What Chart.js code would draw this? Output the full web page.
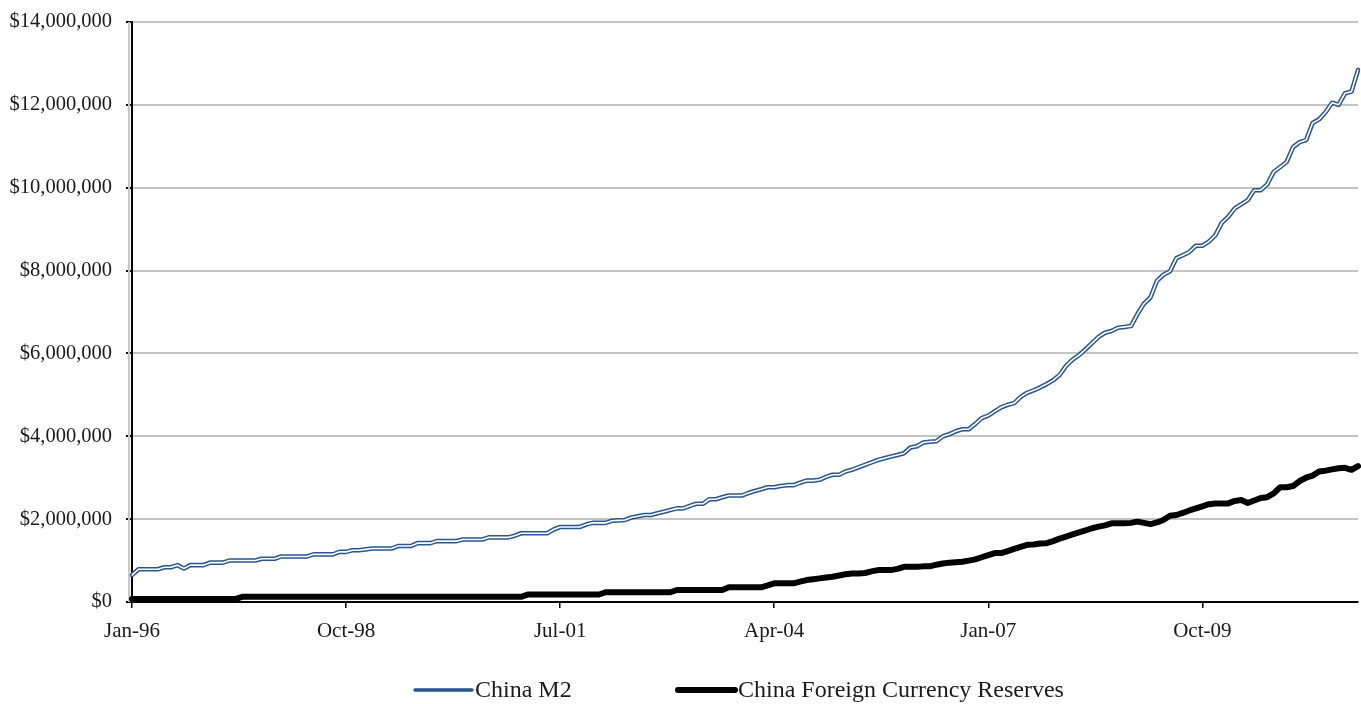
<!DOCTYPE html>
<html>
<head>
<meta charset="utf-8">
<title>China M2 vs Foreign Currency Reserves</title>
<script src="https://cdn.jsdelivr.net/npm/chart.js@4.4.7/dist/chart.umd.min.js"></script>
<style>
  html, body { margin: 0; padding: 0; background: #fff; }
  #wrap { width: 1361px; height: 704px; position: relative; }
</style>
</head>
<body>
<div id="wrap"><canvas id="chart" width="1361" height="704"></canvas></div>
<script>
// monthly series, Jan-96 .. Oct-11 (US$ millions)
const chinaM2 = [
  650000, 790000, 790000, 790000, 790000, 840000, 840000, 890000, 810000, 890000, 890000, 890000,
  950000, 950000, 950000, 1000000, 1000000, 1000000, 1000000, 1000000, 1045000, 1045000, 1045000, 1100000,
  1100000, 1100000, 1100000, 1100000, 1150000, 1150000, 1150000, 1150000, 1210000, 1210000, 1250000, 1250000,
  1270000, 1290000, 1290000, 1290000, 1290000, 1350000, 1350000, 1350000, 1420000, 1420000, 1420000, 1470000,
  1470000, 1470000, 1470000, 1510000, 1510000, 1510000, 1510000, 1560000, 1560000, 1560000, 1560000, 1600000,
  1660000, 1660000, 1660000, 1660000, 1660000, 1750000, 1810000, 1810000, 1810000, 1810000, 1870000, 1910000,
  1910000, 1910000, 1960000, 1970000, 1980000, 2040000, 2070000, 2100000, 2100000, 2140000, 2180000, 2220000,
  2260000, 2260000, 2320000, 2370000, 2370000, 2480000, 2480000, 2530000, 2570000, 2570000, 2570000, 2630000,
  2680000, 2720000, 2770000, 2770000, 2800000, 2820000, 2820000, 2880000, 2930000, 2930000, 2950000, 3020000,
  3070000, 3070000, 3150000, 3190000, 3250000, 3310000, 3370000, 3430000, 3470000, 3510000, 3550000, 3590000,
  3730000, 3760000, 3850000, 3870000, 3880000, 4000000, 4050000, 4120000, 4170000, 4170000, 4300000, 4440000,
  4500000, 4600000, 4700000, 4760000, 4800000, 4950000, 5050000, 5110000, 5180000, 5260000, 5350000, 5480000,
  5700000, 5850000, 5960000, 6100000, 6250000, 6400000, 6500000, 6540000, 6620000, 6640000, 6660000, 6950000,
  7200000, 7350000, 7750000, 7900000, 7980000, 8300000, 8370000, 8450000, 8600000, 8600000, 8700000, 8850000,
  9150000, 9300000, 9500000, 9600000, 9700000, 9940000, 9940000, 10080000, 10380000, 10500000, 10620000, 10980000,
  11100000, 11150000, 11560000, 11650000, 11820000, 12050000, 12000000, 12280000, 12320000, 12840000
];

const fxReserves = [
  75000, 75000, 75000, 75000, 75000, 75000, 75000, 75000, 75000, 75000, 75000, 75000,
  75000, 75000, 75000, 75000, 75000, 125000, 125000, 125000, 125000, 125000, 125000, 125000,
  125000, 125000, 125000, 125000, 125000, 125000, 125000, 125000, 125000, 125000, 125000, 125000,
  125000, 125000, 125000, 125000, 125000, 125000, 125000, 125000, 125000, 125000, 125000, 125000,
  125000, 125000, 125000, 125000, 125000, 125000, 125000, 125000, 125000, 125000, 125000, 125000,
  125000, 180000, 180000, 180000, 180000, 180000, 180000, 180000, 180000, 180000, 180000, 180000,
  180000, 235000, 235000, 235000, 235000, 235000, 235000, 235000, 235000, 235000, 235000, 235000,
  290000, 290000, 290000, 290000, 290000, 290000, 290000, 290000, 355000, 355000, 355000, 355000,
  355000, 355000, 400000, 450000, 450000, 450000, 450000, 490000, 530000, 550000, 570000, 590000,
  610000, 640000, 670000, 690000, 690000, 700000, 740000, 770000, 770000, 770000, 800000, 850000,
  850000, 850000, 860000, 860000, 900000, 930000, 950000, 960000, 970000, 1000000, 1030000, 1080000,
  1130000, 1180000, 1180000, 1230000, 1280000, 1330000, 1380000, 1390000, 1410000, 1420000, 1470000, 1530000,
  1580000, 1630000, 1680000, 1730000, 1780000, 1820000, 1850000, 1900000, 1900000, 1900000, 1910000, 1940000,
  1910000, 1880000, 1920000, 1980000, 2080000, 2100000, 2150000, 2210000, 2260000, 2310000, 2360000, 2380000,
  2380000, 2380000, 2440000, 2460000, 2390000, 2450000, 2510000, 2530000, 2620000, 2770000, 2770000, 2800000,
  2920000, 3000000, 3050000, 3150000, 3170000, 3200000, 3230000, 3240000, 3190000, 3280000
];

const monthNames = ["Jan", "Feb", "Mar", "Apr", "May", "Jun", "Jul", "Aug", "Sep", "Oct", "Nov", "Dec"];
const xTickLabels = ["Jan-96", "Oct-98", "Jul-01", "Apr-04", "Jan-07", "Oct-09"];
const yTicks = [0, 2000000, 4000000, 6000000, 8000000, 10000000, 12000000, 14000000];

// category labels: one per month
const months = [];
for (let i = 0; i < chinaM2.length; i++) {
    const yr = (1996 + Math.floor(i / 12)) % 100;
    months.push(monthNames[i % 12] + "-" + String(yr).padStart(2, "0"));
}

const FONT = "'Liberation Serif', 'Times New Roman', serif";
const M2_BLUE = "#2a5690";

const legendItems = [
    { text: "China M2", color: M2_BLUE, width: 3.5, x: 415 },
    { text: "China Foreign Currency Reserves", color: "#000", width: 6, x: 678 },
];

// bottom legend + grey edge beside the value axis
const chartDecor = {
    id: "chartDecor",
    beforeDatasetsDraw(chart) {
        const { ctx, chartArea } = chart;
        ctx.save();
        ctx.strokeStyle = "#c8c8c8";
        ctx.lineWidth = 2;
        ctx.beginPath();
        ctx.moveTo(chartArea.left - 3, chartArea.top);
        ctx.lineTo(chartArea.left - 3, chartArea.bottom);
        ctx.stroke();
        ctx.restore();
    },
    afterDraw(chart) {
        const ctx = chart.ctx;
        const y = 690;
        ctx.save();
        ctx.font = "24px " + FONT;
        ctx.textBaseline = "middle";
        ctx.fillStyle = "#1a1a1a";
        legendItems.forEach(it => {
            ctx.strokeStyle = it.color;
            ctx.lineWidth = it.width;
            ctx.lineCap = "round";
            ctx.beginPath();
            ctx.moveTo(it.x, y);
            ctx.lineTo(it.x + 57, y);
            ctx.stroke();
            ctx.fillText(it.text, it.x + 60, y + 1);
        });
        ctx.restore();
    },
};

new Chart(document.getElementById("chart"), {
    type: "line",
    data: {
        labels: months,
        datasets: [
            {
                // inner white stroke gives the M2 line its double-rule look
                label: "China M2 (inner)",
                data: chinaM2,
                borderColor: "#ffffff",
                borderWidth: 1.6,
                pointRadius: 0,
                order: 0,
            },
            {
                label: "China M2",
                data: chinaM2,
                borderColor: M2_BLUE,
                borderWidth: 4.6,
                pointRadius: 0,
                order: 1,
            },
            {
                label: "China Foreign Currency Reserves",
                data: fxReserves,
                borderColor: "#000000",
                borderWidth: 6,
                pointRadius: 0,
                order: 2,
            },
        ],
    },
    options: {
        responsive: false,
        animation: false,
        events: [],
        elements: { line: { tension: 0, borderJoinStyle: "round", borderCapStyle: "round" } },
        layout: { padding: { top: 22, right: 3, bottom: 60, left: 0 } },
        plugins: { legend: { display: false }, tooltip: { enabled: false } },
        scales: {
            x: {
                type: "category",
                offset: false,
                afterFit: s => {
                    s.height = 42;
                    s.paddingLeft = 0;
                    s.paddingRight = 0;
                },
                border: { display: true, color: "#000", width: 2 },
                grid: {
                    drawOnChartArea: false,
                    drawTicks: true,
                    tickLength: 6,
                    lineWidth: 1.5,
                    tickColor: c => (xTickLabels.includes(months[c.index]) ? "#000" : "rgba(0,0,0,0)"),
                },
                ticks: {
                    autoSkip: false,
                    maxRotation: 0,
                    padding: 11,
                    color: "#1a1a1a",
                    font: { family: FONT, size: 21 },
                    callback: (v, i) => (xTickLabels.includes(months[i]) ? months[i] : ""),
                },
            },
            y: {
                min: 0,
                max: 14000000,
                afterFit: s => {
                    s.width = 132;
                    s.paddingTop = 0;
                    s.paddingBottom = 0;
                },
                afterBuildTicks: s => { s.ticks = yTicks.map(v => ({ value: v })); },
                border: { display: true, color: "#000", width: 2 },
                grid: {
                    color: "#c4c4c4",
                    lineWidth: 2,
                    tickColor: "#000",
                    tickLength: 6,
                },
                ticks: {
                    padding: 14,
                    color: "#1a1a1a",
                    font: { family: FONT, size: 20.5 },
                    callback: v => "$" + v.toLocaleString("en-US"),
                },
            },
        },
    },
    plugins: [chartDecor],
});
</script>
</body>
</html>
